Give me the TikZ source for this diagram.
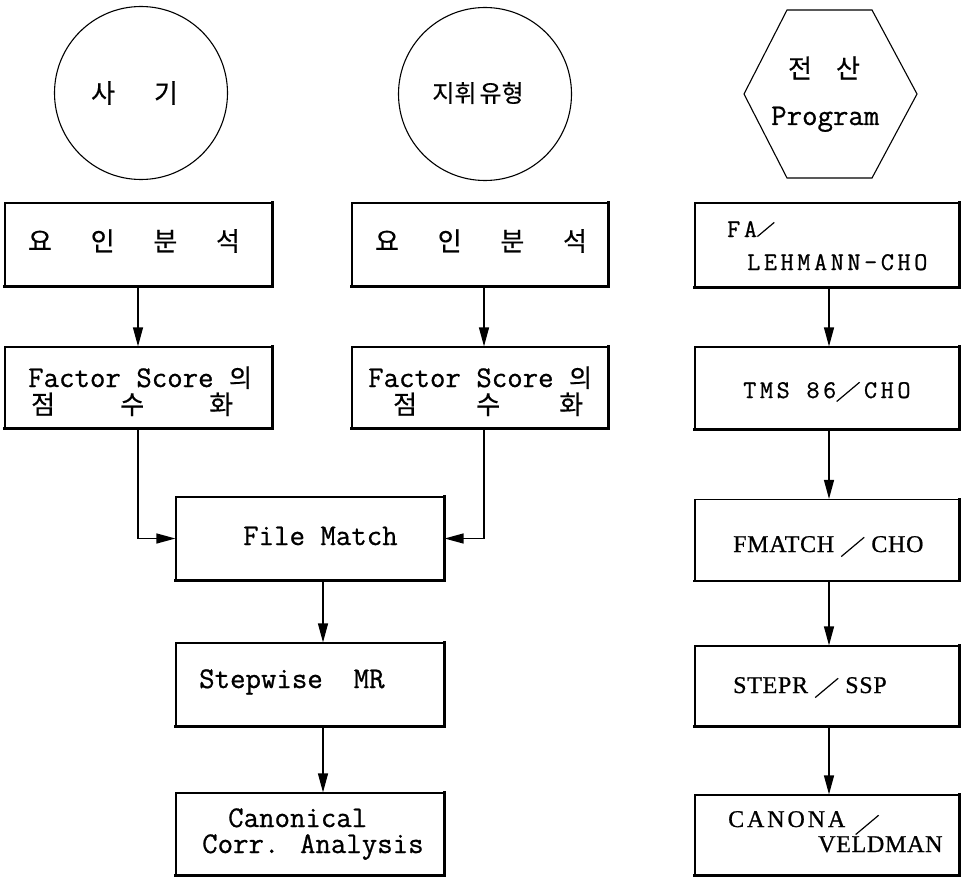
\documentclass[tikz,border=0pt]{standalone}
\usepackage{fontspec}
\newfontfamily\kr[FakeBold=0.4]{Noto Sans CJK KR}
\newfontfamily\mono[FakeBold=0.8]{Latin Modern Mono}
\newfontfamily\wmono[LetterSpace=14,FakeBold=0.8]{Latin Modern Mono}
\newfontfamily\rmw[LetterSpace=3,FakeBold=0.8]{Liberation Serif}
\newfontfamily\rmwide[LetterSpace=12,FakeBold=0.8]{Liberation Serif}
\usetikzlibrary{arrows.meta}
% a long, flat typewriter slash: [length]{lowering}
\newcommand\wsl[2][30pt]{\raisebox{#2}{\rotatebox{40}{\rule{#1}{1.2pt}}}}

\tikzset{
  box/.style={draw, line width=1.2pt, rectangle, inner sep=0pt},
  heavy/.style={line width=2.6pt, line cap=rect},
  link/.style={line width=1.3pt, -{Triangle[length=19pt,width=10pt]}},
  ring/.style={draw, circle, line width=1.1pt, minimum size=173pt, inner sep=0pt},
  krt/.style={font=\kr\fontsize{26}{30}\selectfont, inner sep=0pt},
  mt/.style={font=\mono\fontsize{30}{34}\selectfont, inner sep=0pt, anchor=base west},
  wmt/.style={font=\wmono\fontsize{25.5}{29}\selectfont, inner sep=0pt, anchor=base west},
  rt/.style={font=\rmw\fontsize{24}{28}\selectfont, inner sep=0pt, anchor=base west},
}

\begin{document}
\begin{tikzpicture}[x=1pt,y=-1pt]
\useasboundingbox (0,0) rectangle (968,877);

% heading shapes
\node[ring] (c1) at (141,93) {};
\node[ring] (c2) at (485,94) {};
\draw[line width=1.1pt] (787,10) -- (872,10) -- (917,94) -- (872,178)
  -- (787,178) -- (744,94) -- cycle;
\coordinate (hex) at (830,94);

\node[krt] (t-c1) at (134.5,93) {사\hspace{39pt}기};
\node[krt, font=\kr\fontsize{24}{28}\selectfont] (t-c2) at (478,93) {지휘\hspace{3pt}유형};
\node[krt] (t-hx) at (824,68) {전\hspace{24pt}산};
\node[mt] (t-prog) at (771,125) {Program};

% process boxes
\node[box, minimum width=267pt, minimum height=83pt] (a1) at (138.5,244.5) {};
\node[box, minimum width=267pt, minimum height=81pt] (a2) at (138.5,387.5) {};
\node[box, minimum width=256pt, minimum height=83pt] (b1) at (480,244.5) {};
\node[box, minimum width=256pt, minimum height=81pt] (b2) at (480,387.5) {};
\node[box, minimum width=268pt, minimum height=83pt] (m1) at (310,538.5) {};
\node[box, minimum width=268pt, minimum height=83pt] (m2) at (310,684.5) {};
\node[box, minimum width=268pt, minimum height=82pt] (m3) at (310,834) {};
\node[box, minimum width=264pt, minimum height=84pt] (r1) at (827,245) {};
\node[box, minimum width=264pt, minimum height=82pt] (r2) at (827,388) {};
\node[box, minimum width=264pt, minimum height=81pt] (r3) at (827,540) {};
\node[box, minimum width=264pt, minimum height=80pt] (r4) at (827,686) {};
\node[box, minimum width=264pt, minimum height=80pt] (r5) at (827,835) {};

\foreach \b in {a1,a2,b1,b2,m1,m2,m3,r1,r2,r3,r4,r5}
  \draw[heavy] (\b.north east) -- (\b.south east) -- (\b.south west);

% box texts
\node[krt] (t-a1) at (134,241) {\makebox[212pt]{요\hfill 인\hfill 분\hfill 석}};
\node[krt] (t-b1) at (481,241) {\makebox[212pt]{요\hfill 인\hfill 분\hfill 석}};
\node[mt] (t-a2a) at (28,387) {Factor Score {\kr\fontsize{25}{28}\selectfont 의}};
\node[krt, anchor=base west] (t-a2b) at (31,414) {\makebox[202pt]{점\hfill 수\hfill 화}};
\node[mt] (t-b2a) at (368,387) {Factor Score {\kr\fontsize{25}{28}\selectfont 의}};
\node[krt, anchor=base west] (t-b2b) at (393,414) {\makebox[190pt]{점\hfill 수\hfill 화}};
\node[mt] (t-m1) at (243,545) {File Match};
\node[mt] (t-m2) at (199,688) {Stepwise~~MR};
\node[mt] (t-m3a) at (228,827) {Canonical};
\node[mt] (t-m3b) at (202,853) {Corr. Analysis};

\node[wmt] (t-r1a) at (727,237) {FA\wsl[22pt]{0pt}};
\node[wmt] (t-r1b) at (747,270) {LEHMANN-CHO};
\node[wmt] (t-r2) at (743,398) {TMS 86\wsl{-4pt}\hspace{4pt}CHO};
\node[rt] (t-r3) at (733,552) {FMATCH \wsl{-5pt} CHO};
\node[rt] (t-r4) at (733,693) {STEPR \wsl{-5pt} SSP};
\node[rt, font=\rmwide\fontsize{24}{28}\selectfont] (t-r5a) at (728,827) {CANONA\hspace{10pt}\wsl{-8pt}};
\node[rt] (t-r5b) at (818,852) {VELDMAN};

% connector columns
\coordinate (xa) at (138,0);
\coordinate (xb) at (484,0);
\coordinate (xm) at (323,0);
\coordinate (xr) at (829,0);

\draw[link] (a1.south -| xa) -- (a2.north -| xa);
\draw[link] (b1.south -| xb) -- (b2.north -| xb);
\draw[link] (a2.south -| xa) |- (m1.west);
\draw[link] (b2.south -| xb) |- (m1.east);
\draw[link] (m1.south -| xm) -- (m2.north -| xm);
\draw[link] (m2.south -| xm) -- (m3.north -| xm);
\draw[link] (r1.south -| xr) -- (r2.north -| xr);
\draw[link] (r2.south -| xr) -- (r3.north -| xr);
\draw[link] (r3.south -| xr) -- (r4.north -| xr);
\draw[link] (r4.south -| xr) -- (r5.north -| xr);
\end{tikzpicture}
\end{document}
